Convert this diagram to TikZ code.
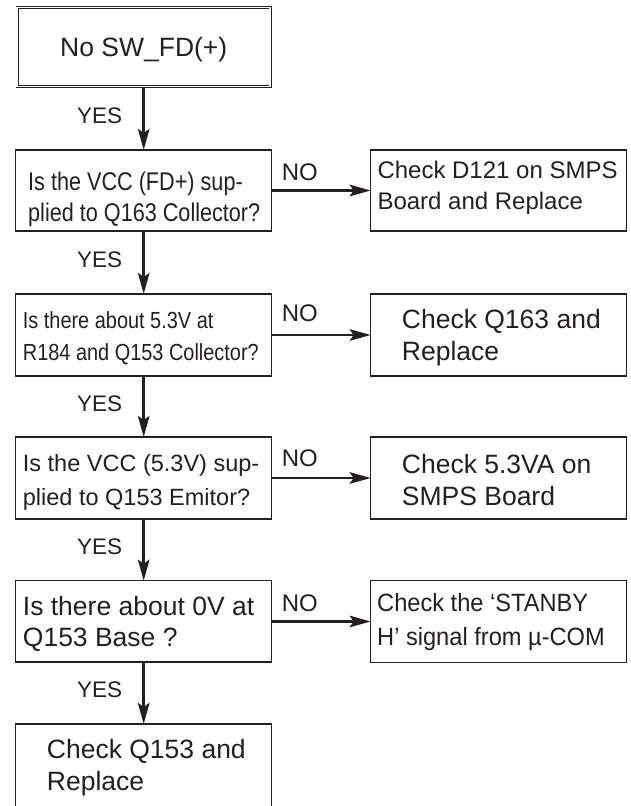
\documentclass[tikz,border=0pt]{standalone}
\usepackage{fontspec}
\setmainfont{Liberation Sans}
\newfontfamily\condA[FakeStretch=0.845]{Liberation Sans}
\newfontfamily\condB[FakeStretch=0.855]{Liberation Sans}
\newfontfamily\condC[FakeStretch=0.945]{Liberation Sans}
\usetikzlibrary{arrows.meta}
\definecolor{ink}{HTML}{231F20}
\begin{document}
\begin{tikzpicture}[x=1bp,y=-1bp,
  box/.style={draw=ink, line width=1.3bp, minimum width=256bp, inner sep=0pt, outer sep=0pt},
  txt/.style={anchor=base west, inner sep=0pt, text=ink},
  flow/.style={draw=ink, line width=2.7bp, -{Stealth[length=21bp,width=11.5bp,inset=4bp]}},
  yeslbl/.style={txt, font=\fontsize{22.5bp}{22.5bp}\selectfont},
  nolbl/.style={txt, font=\fontsize{24bp}{24bp}\selectfont},
  big/.style={txt, font=\fontsize{26.5bp}{26.5bp}\selectfont},
  mid/.style={txt, font=\fontsize{24bp}{24bp}\selectfont},
  small/.style={txt, font=\fontsize{23.5bp}{23.5bp}\selectfont},
  cnda/.style={txt, font={\condA\fontsize{25.6bp}{25.6bp}\selectfont}},
  cndb/.style={txt, font={\condB\fontsize{23.3bp}{23.3bp}\selectfont}},
  cndc/.style={txt, font={\condC\fontsize{25bp}{25bp}\selectfont}},
]
\useasboundingbox (0,0) rectangle (631,806);
\clip (0,0) rectangle (631,806);

% left column boxes
\node[box, double, double distance=1.5bp, line width=0.9bp, minimum width=253bp, minimum height=79bp] (b1) at (143.7,47.2) {};
\node[box, minimum height=81bp] (b2) at (143.7,190.5) {};
\node[box, minimum height=82bp] (b3) at (143.7,335) {};
\node[box, minimum height=82bp] (b4) at (143.7,478) {};
\node[box, minimum height=81.4bp] (b5) at (143.7,621.4) {};
\node[box, minimum height=100bp] (b6) at (143.7,774) {};

% right column boxes
\node[box, minimum height=81bp] (r1) at (498.7,190.5) {};
\node[box, minimum height=82bp] (r2) at (498.7,335) {};
\node[box, minimum height=82bp] (r3) at (498.7,478) {};
\node[box, minimum height=81.6bp] (r4) at (498.7,621.5) {};

% texts
\node[big] (t1) at (60,56.7) {No SW\_FD(+)};
\node[cnda] (t2a) at (28,190) {Is the VCC (FD+) sup-};
\node[cnda] (t2b) at (28,221.7) {plied to Q163 Collector?};
\node[cndb] (t3a) at (22.7,328) {Is there about 5.3V at};
\node[cndb] (t3b) at (22.7,360) {R184 and Q153 Collector?};
\node[small] (t4a) at (22.7,471.7) {Is the VCC (5.3V) sup-};
\node[small] (t4b) at (22.7,505) {plied to Q153 Emitor?};
\node[big] (t5a) at (22.7,615) {Is there about 0V at};
\node[big] (t5b) at (22.7,646.7) {Q153 Base ?};
\node[big] (t6a) at (46.7,758) {Check Q153 and};
\node[big] (t6b) at (46.7,790) {Replace};

\node[mid] (s1a) at (377.3,178) {Check D121 on SMPS};
\node[mid] (s1b) at (377.3,209) {Board and Replace};
\node[big] (s2a) at (401.7,328) {Check Q163 and};
\node[big] (s2b) at (401.7,360) {Replace};
\node[big] (s3a) at (401.7,473) {Check 5.3VA on};
\node[big] (s3b) at (401.7,505) {SMPS Board};
\node[cndc] (s4a) at (377,611.7) {Check the ‘STANBY};
\node[cndc] (s4b) at (377,645) {H’ signal from µ-COM};

% YES / NO labels
\node[yeslbl] (y1) at (77,123) {YES};
\node[yeslbl] (y2) at (77,267) {YES};
\node[yeslbl] (y3) at (77,411) {YES};
\node[yeslbl] (y4) at (77,554) {YES};
\node[yeslbl] (y5) at (77,697) {YES};
\node[nolbl] (n1) at (281.7,180) {NO};
\node[nolbl] (n2) at (281.7,321.7) {NO};
\node[nolbl] (n3) at (281.7,466.7) {NO};
\node[nolbl] (n4) at (281.7,611.7) {NO};

% connectors
\draw[flow] (b1.south) -- (b2.north);
\draw[flow] (b2.south) -- (b3.north);
\draw[flow] (b3.south) -- (b4.north);
\draw[flow] (b4.south) -- (b5.north);
\draw[flow] (b5.south) -- (b6.north);
\draw[flow] (b2.east) -- (r1.west);
\draw[flow] (b3.east) -- (r2.west);
\draw[flow] (b4.east) -- (r3.west);
\draw[flow] (b5.east) -- (r4.west);
\end{tikzpicture}
\end{document}
